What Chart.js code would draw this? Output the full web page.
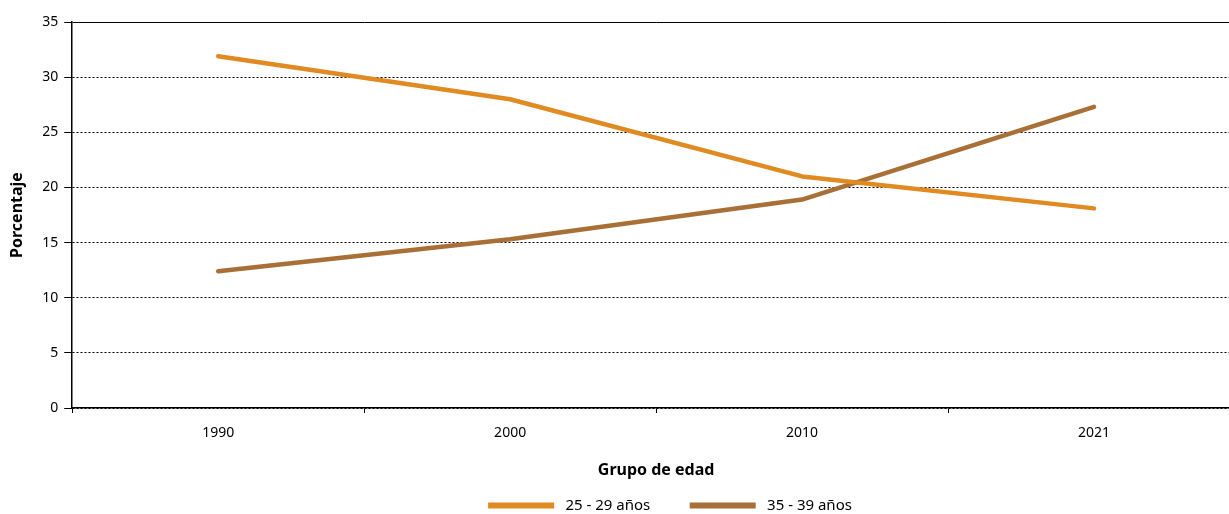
<!DOCTYPE html>
<html>
<head>
<meta charset="utf-8">
<script src="https://cdn.jsdelivr.net/npm/chart.js@4"></script>
<style>
    html, body { margin: 0; padding: 0; background: #fff; overflow: hidden; }
    #wrap { width: 1340px; height: 514px; }
</style>
</head>
<body>
<div id="wrap"><canvas id="chart"></canvas></div>
<script>
// ==================== Data ====================
const years = ['1990', '2000', '2010', '2021'];
const group25to29 = [31.9, 28.0, 21.0, 18.1];
const group35to39 = [12.4, 15.3, 18.9, 27.3];
const seriesNames = ['25 - 29 años', '35 - 39 años'];
const seriesColors = ['#e08a22', '#a86f36'];

const FONT = '"Noto Sans", "Open Sans", sans-serif';
const NB = '\u00a0';

// the legend in the original sits a bit right of the plot centre
const legendShift = {
    id: 'legendShift',
    afterLayout(chart) {
        if (!chart.legend) return;
        chart.legend.left += 50;
        chart.legend.right += 50;
    }
};

function buildChart() {
    const ctx = document.getElementById('chart').getContext('2d');
    return new Chart(ctx, {
        type: 'line',
        data: {
            labels: years,
            datasets: [group25to29, group35to39].map((values, i) => ({
                label: seriesNames[i],
                data: values,
                borderColor: seriesColors[i],
                backgroundColor: seriesColors[i],
                borderWidth: 4.5,
                borderCapStyle: 'round',
                borderJoinStyle: 'round',
                pointRadius: 0,
                pointHoverRadius: 0,
                tension: 0,
                fill: false
            }))
        },
        plugins: [legendShift],
        options: {
            responsive: true,
            maintainAspectRatio: false,
            animation: false,
            layout: { padding: { top: 22, right: 100, left: 0, bottom: -9 } },
            plugins: {
                tooltip: { enabled: false },
                legend: {
                    position: 'bottom',
                    labels: {
                        color: '#000',
                        font: { family: FONT, size: 15 },
                        boxWidth: 66,
                        boxHeight: 6,
                        padding: 16,
                        useBorderRadius: true,
                        borderRadius: 3,
                        // spaces only widen the gaps around the text
                        generateLabels: chart => chart.data.datasets.map((ds, i) => ({
                            text: NB + ds.label + (i === 0 ? NB.repeat(6) : ''),
                            fillStyle: ds.borderColor,
                            strokeStyle: ds.borderColor,
                            lineWidth: 0,
                            fontColor: '#000',
                            datasetIndex: i
                        }))
                    }
                }
            },
            scales: {
                x: {
                    offset: true,
                    grid: {
                        offset: true,
                        drawOnChartArea: false,
                        color: '#000',
                        tickColor: '#000',
                        tickLength: 5,
                        tickWidth: 1
                    },
                    border: { display: true, color: '#000', width: 1.5 },
                    ticks: {
                        color: '#000',
                        font: { family: FONT, size: 14 },
                        padding: 12
                    },
                    title: {
                        display: true,
                        text: 'Grupo de edad',
                        color: '#000',
                        font: { family: FONT, size: 16, weight: 'bold' },
                        padding: { top: 7, bottom: 2 }
                    }
                },
                y: {
                    min: 0,
                    max: 35,
                    grid: {
                        color: '#000',
                        lineWidth: 1,
                        tickColor: '#000',
                        tickLength: 8,
                        tickBorderDash: []
                    },
                    border: {
                        display: true,
                        color: '#000',
                        width: 1.5,
                        dash: c => (c.tick && c.tick.value === 35) ? [] : [2, 2]
                    },
                    ticks: {
                        stepSize: 5,
                        color: '#000',
                        font: { family: FONT, size: 14 },
                        padding: 6
                    },
                    title: {
                        display: true,
                        text: 'Porcentaje',
                        color: '#000',
                        font: { family: FONT, size: 16, weight: 'bold' },
                        padding: { top: 8, bottom: 9 }
                    }
                }
            }
        }
    });
}

buildChart();
</script>
</body>
</html>
